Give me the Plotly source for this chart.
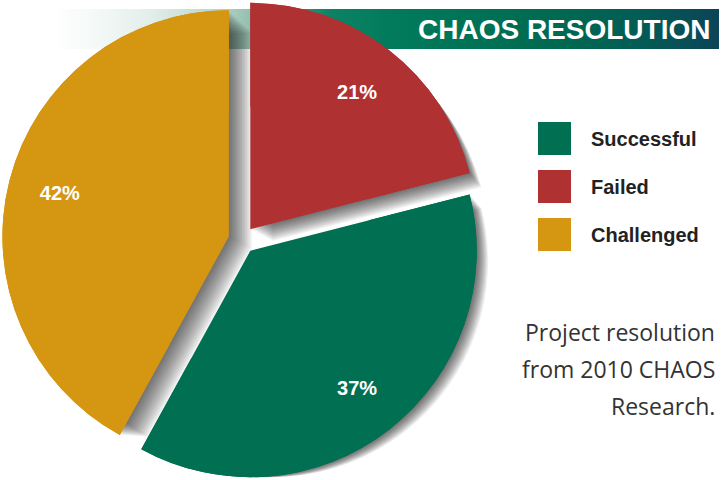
import plotly.graph_objects as go

# ---- data ----
categories = ["Successful", "Failed", "Challenged"]
shares = [37, 21, 42]
colors = ["#006f52", "#b03131", "#d59611"]
slice_labels = [f"{v}%" for v in shares]
title_text = "CHAOS RESOLUTION"
note_lines = ["Project resolution", "from 2010 CHAOS", "Research."]

W, H = 723, 480
PULL = 0.06
# Successful starts where Failed ends; slices run counter-clockwise
rotation = shares[1] / sum(shares) * 360

fig = go.Figure()

# banner with horizontal gradient (drawn on a hidden pixel grid)
fig.add_trace(go.Scatter(
    x=[50, 719, 719, 50, 50], y=[9, 9, 49, 49, 9],
    mode="none", fill="toself", hoverinfo="skip", showlegend=False,
    fillgradient=dict(type="horizontal", colorscale=[
        [0.0, "#ffffff"], [0.06, "#f6faf8"], [0.15, "#e2eeea"], [0.25, "#b8d5ca"],
        [0.31, "#8dbaa9"], [0.37, "#3d927a"], [0.42, "#0c8264"], [0.52, "#007a5b"],
        [0.75, "#006a51"], [0.88, "#035c55"], [1.0, "#0b4458"]]),
))

pie_common = dict(
    labels=categories, values=shares, sort=False, direction="counterclockwise",
    rotation=rotation, pull=PULL, showlegend=False, hoverinfo="skip",
    textinfo="none",
)

x0, x1 = 2, 482
# soft drop shadow layers
for d in range(1, 15):
    a = 0.05
    fig.add_trace(go.Pie(
        **pie_common,
        marker=dict(colors=[f"rgba(0,0,0,{a})"] * len(shares), line=dict(width=0)),
        domain=dict(x=[(x0 + d * 1.6) / W, (x1 + d * 1.6) / W], y=[0, 1 - 1.6 * d / H]),
    ))

# base pie
fig.add_trace(go.Pie(
    **pie_common,
    marker=dict(colors=colors, line=dict(width=0)),
    domain=dict(x=[x0 / W, x1 / W], y=[0, 1]),
))
# ring overlay that carries the labels further out
ring = dict(pie_common)
ring.update(textinfo="text", hole=0.54)
fig.add_trace(go.Pie(
    **ring,
    text=slice_labels, textposition="inside", insidetextorientation="horizontal",
    textfont=dict(family="Liberation Sans", size=20, color="white", weight="bold"),
    marker=dict(colors=colors, line=dict(width=0)),
    domain=dict(x=[x0 / W, x1 / W], y=[0, 1]),
))

# title on banner
annotations = [dict(
    x=712, y=29, xref="x", yref="y", xanchor="right", yanchor="middle",
    text=f"<b>{title_text}</b>", showarrow=False,
    font=dict(family="Liberation Sans", size=28, color="white"),
)]

# legend (large swatches)
shapes = []
for i, (cat, col) in enumerate(zip(categories, colors)):
    top = 122 + i * 48
    shapes.append(dict(type="rect", xref="x", yref="y", x0=538, x1=571,
                       y0=top, y1=top + 33, fillcolor=col, line=dict(width=0)))
    annotations.append(dict(
        x=589, y=top + 17, xref="x", yref="y", xanchor="left", yanchor="middle",
        text=f"<b>{cat}</b>", showarrow=False,
        font=dict(family="Liberation Sans", size=20, color="#222222"),
    ))

# note
for i, line in enumerate(note_lines):
    annotations.append(dict(
        x=717, y=332 + i * 37, xref="x", yref="y", xanchor="right", yanchor="middle",
        text=line, showarrow=False,
        font=dict(family="Open Sans", size=23, color="#333333"),
    ))

fig.update_layout(
    width=W, height=H, margin=dict(l=0, r=0, t=0, b=0),
    paper_bgcolor="white", plot_bgcolor="white",
    xaxis=dict(range=[0, W], visible=False, fixedrange=True),
    yaxis=dict(range=[H, 0], visible=False, fixedrange=True),
    annotations=annotations, shapes=shapes, showlegend=False,
)

fig.write_html("out.html", config={"displayModeBar": False},
               post_script="document.body.style.margin='0';document.body.style.overflow='hidden';")
